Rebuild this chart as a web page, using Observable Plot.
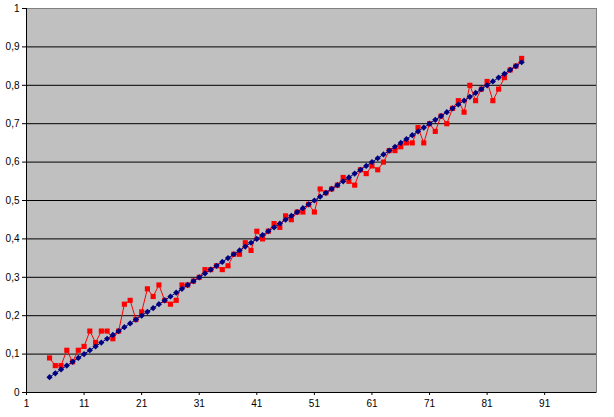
<!DOCTYPE html>
<html>
<head>
<meta charset="utf-8">
<script src="https://cdn.jsdelivr.net/npm/d3@7"></script>
<script src="https://cdn.jsdelivr.net/npm/@observablehq/plot@0.6"></script>
<style>
  html, body { margin: 0; padding: 0; background: #ffffff; }
  #chart { width: 614px; height: 417px; }
</style>
</head>
<body>
<div id="chart"></div>
<script>
const xValues = [5,6,7,8,9,10,11,12,13,14,15,16,17,18,19,20,21,22,23,24,25,26,27,28,29,30,31,32,33,34,35,36,37,38,39,40,41,42,43,44,45,46,47,48,49,50,51,52,53,54,55,56,57,58,59,60,61,62,63,64,65,66,67,68,69,70,71,72,73,74,75,76,77,78,79,80,81,82,83,84,85,86,87];
const blueValues = [0.04,0.05,0.06,0.07,0.08,0.09,0.10,0.11,0.12,0.13,0.14,0.15,0.16,0.17,0.18,0.19,0.20,0.21,0.22,0.23,0.24,0.25,0.26,0.27,0.28,0.29,0.30,0.31,0.32,0.33,0.34,0.35,0.36,0.37,0.38,0.39,0.40,0.41,0.42,0.43,0.44,0.45,0.46,0.47,0.48,0.49,0.50,0.51,0.52,0.53,0.54,0.55,0.56,0.57,0.58,0.59,0.60,0.61,0.62,0.63,0.64,0.65,0.66,0.67,0.68,0.69,0.70,0.71,0.72,0.73,0.74,0.75,0.76,0.77,0.78,0.79,0.80,0.81,0.82,0.83,0.84,0.85,0.86];
const redValues = [0.09,0.07,0.07,0.11,0.08,0.11,0.12,0.16,0.13,0.16,0.16,0.14,0.16,0.23,0.24,0.19,0.21,0.27,0.25,0.28,0.24,0.23,0.24,0.28,0.28,0.29,0.30,0.32,0.32,0.33,0.32,0.33,0.36,0.36,0.39,0.37,0.42,0.40,0.42,0.44,0.43,0.46,0.45,0.47,0.47,0.49,0.47,0.53,0.52,0.53,0.54,0.56,0.55,0.54,0.58,0.57,0.59,0.58,0.60,0.63,0.63,0.64,0.65,0.65,0.69,0.65,0.70,0.68,0.72,0.70,0.74,0.76,0.73,0.80,0.76,0.79,0.81,0.76,0.79,0.82,0.84,0.85,0.87];
const xTicks = [1,11,21,31,41,51,61,71,81,91];
const yTicks = [0,0.1,0.2,0.3,0.4,0.5,0.6,0.7,0.8,0.9,1];
const gridLines = [0.1,0.2,0.3,0.4,0.5,0.6,0.7,0.8,0.9];

const blue = xValues.map((x, i) => ({x, y: blueValues[i]}));
const red = xValues.map((x, i) => ({x, y: redValues[i]}));

const chart = Plot.plot({
  width: 614,
  height: 417,
  marginLeft: 26,
  marginTop: 8,
  marginRight: 18,
  marginBottom: 25,
  style: {fontFamily: "'Liberation Sans', Arial, sans-serif", fontSize: "10px", background: "#ffffff", color: "#000"},
  x: {type: "linear", domain: [1, 100]},
  y: {domain: [0, 1]},
  marks: [
    Plot.frame({fill: "#c0c0c0", stroke: "#808080"}),
    Plot.ruleY(gridLines, {stroke: "#000", strokeWidth: 1}),
    Plot.ruleX([1], {stroke: "#000", strokeWidth: 1}),
    Plot.ruleY([0], {stroke: "#000", strokeWidth: 1}),
    Plot.axisY({ticks: yTicks, tickSize: 4, tickPadding: 3, tickFormat: d => String(d).replace(".", ","), label: null, stroke: "#000", fill: "#000"}),
    Plot.axisX({ticks: xTicks, tickSize: 3, tickPadding: 4, tickFormat: d => String(d), label: null, stroke: "#000", fill: "#000"}),
    Plot.line(red, {x: "x", y: "y", stroke: "#ff0000", strokeWidth: 1}),
    Plot.dot(red, {x: "x", y: "y", symbol: "square", r: 2.9, fill: "#ff0000", stroke: "none"}),
    Plot.line(blue, {x: "x", y: "y", stroke: "#000080", strokeWidth: 1}),
    Plot.dot(blue, {x: "x", y: "y", symbol: "diamond2", r: 2.8, fill: "#000080", stroke: "none"})
  ]
});
document.getElementById("chart").appendChild(chart);
</script>
</body>
</html>
